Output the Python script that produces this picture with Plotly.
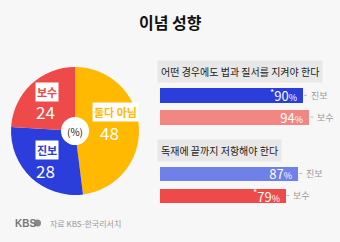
import math
import plotly.graph_objects as go

# ---- data ----
pie_labels = ["둘다 아님", "진보", "보수"]
pie_values = [48, 28, 24]
pie_colors = ["#FFB900", "#2B3DDB", "#EE4A4A"]

groups = ["진보", "보수"]
q1_title = "어떤 경우에도 법과 질서를 지켜야 한다"
q1_values = [90, 94]
q1_sig = [True, False]
q1_colors = ["#2B3DDB", "#F28683"]
q2_title = "독재에 끝까지 저항해야 한다"
q2_values = [87, 79]
q2_sig = [False, True]
q2_colors = ["#6F80EA", "#EE4A4A"]

title = "이념 성향"
source = "자료 KBS-한국리서치"

W, H = 340, 242
FONT = "Noto Sans CJK KR"


def px(x):
    return x / W


def py(y):
    return 1 - y / H


def ann(x, y, text, size, color, xanchor="center", family=FONT, **kw):
    d = dict(x=x, y=y, xref="paper", yref="paper", text=text, showarrow=False,
             xanchor=xanchor, yanchor="middle",
             font=dict(size=size, color=color, family=family))
    d.update(kw)
    return d


fig = go.Figure()

# pie geometry (pixels)
CX, CY, R = 75, 131, 64
HOLE = 0.22
fig.add_trace(go.Pie(
    labels=pie_labels, values=pie_values, sort=False, direction="clockwise",
    rotation=0, hole=HOLE, marker=dict(colors=pie_colors, line=dict(width=0)),
    textinfo="none", hoverinfo="skip", showlegend=False,
    domain=dict(x=[px(CX - R), px(CX + R)], y=[py(CY + R), py(CY - R)]),
))

shapes = []
annotations = []
# white centre
hr = R * HOLE
shapes.append(dict(type="circle", xref="paper", yref="paper", layer="below",
                   x0=px(CX - hr), x1=px(CX + hr), y0=py(CY + hr), y1=py(CY - hr),
                   fillcolor="white", line=dict(width=0)))
annotations.append(ann(px(CX), py(CY), "(%)", 10, "#222"))

# slice labels from mid angles
total = sum(pie_values)
cum = 0
for lab, v, col in zip(pie_labels, pie_values, pie_colors):
    mid = (cum + v / 2) / total * 2 * math.pi
    cum += v
    lx = CX + 0.63 * R * math.sin(mid)
    ly = CY - 0.63 * R * math.cos(mid)
    side = abs(math.sin(mid)) > 0.9
    if side:
        ly -= 6
    annotations.append(ann(px(lx), py(ly - 10), f"<b>{lab}</b>", 11, col,
                           bgcolor="white", borderpad=1))
    annotations.append(ann(px(lx - (6 if side else 2)), py(ly + 10), str(v), 17, "white"))

# bars
XD = [px(160), px(319)]
panels = [
    (q1_title, q1_values, q1_sig, q1_colors, "x", "y", [py(128), py(84.5)], 71.5),
    (q2_title, q2_values, q2_sig, q2_colors, "x2", "y2", [py(206.5), py(162.5)], 150.5),
]
for ti, vals, sig, cols, xa, ya, ydom, hy in panels:
    idx = list(range(len(groups)))
    txt = [("<sup>*</sup>" if s else "") + f"{v}<span style='font-size:9px'>%</span>\u00a0"
           for v, s in zip(vals, sig)]
    fig.add_trace(go.Bar(
        x=vals, y=idx, orientation="h", marker=dict(color=cols, line=dict(width=0)),
        width=0.68, text=txt, textposition="inside", insidetextanchor="end",
        constraintext="none",
        textfont=dict(size=13, color="white", family=FONT),
        xaxis=xa, yaxis=ya, showlegend=False, hoverinfo="skip",
    ))
    for i, (g, v) in enumerate(zip(groups, vals)):
        shapes.append(dict(type="line", xref=xa, yref=ya, x0=v + 0.5, x1=v + 3.5, y0=i, y1=i,
                           line=dict(color="#BBBBBB", width=1, dash="dot")))
        annotations.append(dict(x=v + 3.6, y=i, xref=xa, yref=ya, text=g, xanchor="left",
                                yanchor="middle", showarrow=False,
                                font=dict(size=9, color="#999", family=FONT)))
    annotations.append(ann(px(157), py(hy), ti, 10, "#222", xanchor="left",
                           bgcolor="#E8E8E8", borderpad=3))
    layout_ax = dict(domain=XD, range=[0, 100], visible=False, fixedrange=True)
    layout_ay = dict(domain=ydom, range=[len(groups) - 0.5, -0.5], visible=False, fixedrange=True)
    if xa == "x":
        fig.update_layout(xaxis=dict(layout_ax, anchor="y"), yaxis=dict(layout_ay, anchor="x"))
    else:
        fig.update_layout(xaxis2=dict(layout_ax, anchor="y2"), yaxis2=dict(layout_ay, anchor="x2"))

# title & footer
annotations.append(ann(0.5, py(22), f"<b>{title}</b>", 16, "#111"))
annotations.append(ann(px(13), py(223), "<b>KBS</b>", 10, "#777", xanchor="left",
                       family="Liberation Sans"))
shapes.append(dict(type="circle", xref="paper", yref="paper", x0=px(34), x1=px(41),
                   y0=py(226.5), y1=py(219.5), fillcolor="#888", line=dict(width=0)))
annotations.append(ann(px(48), py(223), source, 8, "#999", xanchor="left"))

fig.update_layout(
    width=W, height=H, margin=dict(l=0, r=0, t=0, b=0),
    paper_bgcolor="#F7F7F7", plot_bgcolor="rgba(0,0,0,0)",
    shapes=shapes, annotations=annotations, bargap=0, showlegend=False,
)
fig.write_html("out.html", config={"displayModeBar": False})
